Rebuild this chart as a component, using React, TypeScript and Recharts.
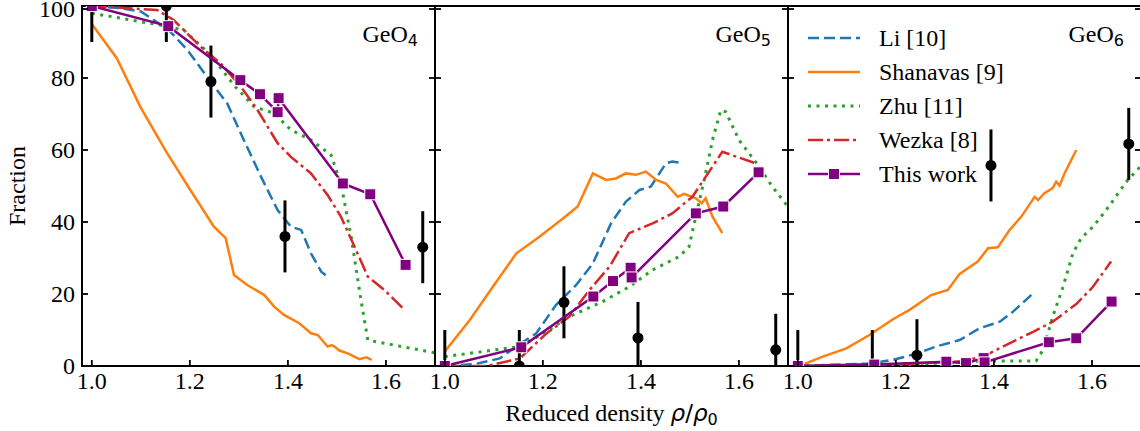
import React from 'react'
import { ComposedChart, Line, Scatter, ErrorBar, XAxis, YAxis, ReferenceArea, Legend } from 'recharts'

const SERIF = '"Liberation Serif", "Times New Roman", serif'
const MATH = '"DejaVu Sans", sans-serif'
const FS = 24

const BLUE = '#1f77b4'
const ORANGE = '#ff7f0e'
const GREEN = '#2ca02c'
const RED = '#d62728'
const PURPLE = '#800080'

const xTicks = [1.0, 1.2, 1.4, 1.6]
const yTicks = [0, 20, 40, 60, 80, 100]
const panelTitles = ['4', '5', '6']
const seriesNames = ['Li [10]', 'Shanavas [9]', 'Zhu [11]', 'Wezka [8]', 'This work']

// this work: same densities in all three panels
const thisWorkX = [1.0, 1.156, 1.303, 1.343, 1.379, 1.381, 1.512, 1.568, 1.64]
const thisWorkGeO4 = [100, 94.4, 79.4, 75.5, 70.5, 74.4, 50.7, 47.7, 28.1]
const thisWorkGeO5 = [0, 5.2, 19.3, 23.6, 27.3, 24.6, 42.4, 44.3, 53.8]
const thisWorkGeO6 = [0, 0.4, 1.2, 0.8, 2.2, 1.0, 6.6, 7.7, 17.9]

// experiment, +-10
const expX = [1.0, 1.152, 1.243, 1.394, 1.675]
const expGeO4 = [100, 100, 79, 36, 33]
const expGeO5 = [0, 0, 17.7, 7.8, 4.5]
const expGeO6 = [0, 0, 3, 55.7, 61.7]
const expErr = [10, 10, 10, 10, 10]

const liGeO4 = [[1.0, 100], [1.05, 99.5], [1.1, 98.5], [1.157, 93.3], [1.195, 87.8], [1.242, 79], [1.276, 73], [1.31, 62.8], [1.345, 52.6], [1.379, 43.3], [1.406, 38.7], [1.427, 37.8], [1.447, 31.3], [1.468, 26.2], [1.481, 24.8]]
const liGeO5 = [[1.0, 0], [1.06, 0.5], [1.112, 2.1], [1.155, 6.3], [1.186, 9], [1.227, 17], [1.268, 22.5], [1.302, 28.5], [1.339, 39.6], [1.369, 45.6], [1.397, 48.9], [1.42, 49.8], [1.451, 56.3], [1.464, 56.8], [1.477, 56.5]]
const liGeO6 = [[1.0, 0], [1.146, 0.7], [1.194, 1.7], [1.244, 3.5], [1.282, 5.4], [1.33, 7.2], [1.371, 10.5], [1.412, 12.3], [1.439, 15.1], [1.48, 20.2]]

const shanavasGeO4 = [[1.0, 95], [1.051, 85.5], [1.099, 72], [1.152, 59.5], [1.201, 48.9], [1.249, 38.7], [1.273, 35.5], [1.29, 25.3], [1.317, 22.5], [1.352, 19.7], [1.372, 16.5], [1.392, 14.2], [1.423, 11.9], [1.447, 9.1], [1.461, 8.6], [1.481, 5.4], [1.489, 5.8], [1.495, 5.4], [1.505, 4.3], [1.522, 3.5], [1.546, 1.9], [1.56, 2.4], [1.571, 1.7]]
const shanavasGeO5 = [[1.0, 4], [1.051, 12.8], [1.098, 22], [1.146, 31.3], [1.193, 35.9], [1.241, 41], [1.271, 44.3], [1.302, 53.5], [1.329, 51.7], [1.349, 52.1], [1.369, 53.5], [1.39, 53.1], [1.41, 54], [1.431, 51.7], [1.451, 50.7], [1.475, 47], [1.488, 47.8], [1.512, 46.6], [1.524, 45.2], [1.532, 46.6], [1.546, 41.5], [1.566, 36.9]]
const shanavasGeO6 = [[1.014, 0.6], [1.051, 2.6], [1.099, 4.9], [1.146, 8.6], [1.194, 13], [1.228, 15.6], [1.272, 19.7], [1.306, 21.1], [1.33, 25.6], [1.367, 29], [1.388, 32.7], [1.408, 33], [1.432, 37.8], [1.456, 41.5], [1.483, 47], [1.49, 46.1], [1.503, 48], [1.52, 49.4], [1.527, 51.2], [1.534, 50.1], [1.544, 53.5], [1.568, 60]]

const zhuGeO4 = [[1.0, 98], [1.14, 94.7], [1.188, 93.3], [1.242, 86.4], [1.29, 78], [1.331, 72], [1.372, 70.2], [1.406, 65.6], [1.447, 62.8], [1.488, 58.6], [1.508, 50.7], [1.529, 35.9], [1.549, 18.3], [1.563, 7.2], [1.597, 6.3], [1.652, 4.9], [1.71, 3.4]]
const zhuGeO5 = [[1.0, 2.6], [1.153, 5.4], [1.2, 9], [1.254, 13.7], [1.322, 17.9], [1.376, 22], [1.424, 26.7], [1.478, 30.4], [1.498, 33.1], [1.512, 41.5], [1.532, 53.5], [1.546, 62.8], [1.563, 71.1], [1.573, 70.6], [1.6, 62.8], [1.641, 55.4], [1.668, 49.8], [1.71, 42.5]]
const zhuGeO6 = [[1.0, 0], [1.2, 0.3], [1.398, 1.4], [1.486, 1.4], [1.5, 4.4], [1.52, 13.7], [1.541, 22], [1.561, 31.3], [1.578, 35.5], [1.602, 38.7], [1.629, 43.3], [1.673, 51.7], [1.71, 57]]

const wezkaGeO4 = [[1.0, 100], [1.133, 98.9], [1.167, 96.1], [1.222, 88.7], [1.263, 84], [1.304, 77.6], [1.338, 71.1], [1.379, 61.9], [1.406, 58.1], [1.447, 53.5], [1.481, 47.5], [1.508, 41.5], [1.536, 33.1], [1.563, 24.8], [1.597, 21.1], [1.638, 15.6]]
const wezkaGeO5 = [[1.0, 0], [1.085, 0], [1.153, 2.1], [1.207, 9], [1.254, 13.7], [1.295, 21.1], [1.336, 27.6], [1.376, 36.9], [1.424, 39.6], [1.464, 42.4], [1.505, 47], [1.546, 55.4], [1.566, 59.5], [1.634, 56.3]]
const wezkaGeO6 = [[1.0, 0], [1.248, 0.7], [1.344, 1.4], [1.391, 3.5], [1.439, 6.8], [1.48, 9.5], [1.52, 12.3], [1.568, 17.2], [1.602, 22], [1.639, 29]]

const W = 1141
const H = 431
const TOP = 6
const BOTTOM = 366
const PW = 353
const panelLefts = [82, 435, 788]

const styles = [
  { color: BLUE, dash: '11 5', width: 2.5 },
  { color: ORANGE, dash: undefined, width: 2.5 },
  { color: GREEN, dash: '3 5.5', width: 3 },
  { color: RED, dash: '15 4 3 4', width: 2.5 },
  { color: PURPLE, dash: undefined, width: 2.5 },
]

const pts = (pairs: number[][]) => pairs.map(([x, y]) => ({ x, y }))
const zipPts = (xs: number[], ys: number[]) => xs.map((x, i) => ({ x, y: ys[i] }))

const panels = [
  { li: liGeO4, sh: shanavasGeO4, zhu: zhuGeO4, wez: wezkaGeO4, tw: thisWorkGeO4, exp: expGeO4 },
  { li: liGeO5, sh: shanavasGeO5, zhu: zhuGeO5, wez: wezkaGeO5, tw: thisWorkGeO5, exp: expGeO5 },
  { li: liGeO6, sh: shanavasGeO6, zhu: zhuGeO6, wez: wezkaGeO6, tw: thisWorkGeO6, exp: expGeO6 },
]

const squareDot = (p: any) => (
  <rect key={`sq-${p.index}`} x={p.cx - 5.5} y={p.cy - 5.5} width={11} height={11} fill={PURPLE} stroke="#fff" strokeWidth={1} />
)

function LegendBox() {
  return (
    <div style={{ fontFamily: SERIF, fontSize: FS, color: '#000' }}>
      {seriesNames.map((name, i) => (
        <div key={name} style={{ display: 'flex', alignItems: 'center', height: 34 }}>
          <svg width={52} height={20} style={{ marginRight: 19 }}>
            <line x1={0} x2={52} y1={10} y2={10} stroke={styles[i].color} strokeWidth={styles[i].width} strokeDasharray={styles[i].dash} />
            {i === 4 && <rect x={20.5} y={4.5} width={11} height={11} fill={PURPLE} stroke="#fff" strokeWidth={1} />}
          </svg>
          <span style={{ lineHeight: '34px', whiteSpace: 'nowrap' }}>{name}</span>
        </div>
      ))}
    </div>
  )
}

function Panel({ idx }: { idx: number }) {
  const left = panelLefts[idx]
  const d = panels[idx]
  const labels = idx === 0
  const clipId = `plot-clip-${idx}`

  const yTick = (props: any) => (
    <g>
      <line x1={left} x2={left + 6} y1={props.y} y2={props.y} stroke="#000" strokeWidth={1.8} />
      <line x1={left + PW - 6} x2={left + PW} y1={props.y} y2={props.y} stroke="#000" strokeWidth={1.8} />
      {labels && (
        <text x={left - 7} y={props.y + 8} textAnchor="end" fontSize={FS} fontFamily={SERIF} fill="#000">
          {props.payload.value}
        </text>
      )}
    </g>
  )

  const xTick = (props: any) => (
    <g>
      <line x1={props.x} x2={props.x} y1={BOTTOM} y2={BOTTOM - 6} stroke="#000" strokeWidth={1.8} />
      <text x={props.x} y={BOTTOM + 23} textAnchor="middle" fontSize={FS} fontFamily={SERIF} fill="#000">
        {Number(props.payload.value).toFixed(1)}
      </text>
    </g>
  )

  // panel title, plus the clip rect for the experimental points
  const title = (props: any) => {
    const vb = props.viewBox
    return (
      <g>
        <defs>
          <clipPath id={clipId}>
            <rect x={vb.x} y={vb.y} width={vb.width} height={vb.height} />
          </clipPath>
        </defs>
        <text x={vb.x + vb.width - 17} y={42} textAnchor="end" fontSize={FS} fontFamily={SERIF} fill="#000">
          GeO
          <tspan fontFamily={MATH} fontSize={16} dy={4}>{panelTitles[idx]}</tspan>
        </text>
      </g>
    )
  }

  const xLabel = (props: any) => {
    const vb = props.viewBox
    return (
      <text x={vb.x + vb.width / 2} y={421} textAnchor="middle" fontSize={FS} fontFamily={SERIF} fill="#000">
        Reduced density{' '}
        <tspan fontFamily={MATH} fontStyle="italic" fontSize={23}>ρ</tspan>
        <tspan fontFamily={MATH} fontSize={23}>/</tspan>
        <tspan fontFamily={MATH} fontStyle="italic" fontSize={23}>ρ</tspan>
        <tspan fontFamily={MATH} fontSize={16} dy={4}>0</tspan>
      </text>
    )
  }

  const yLabel = () => (
    <text x={25} y={186} transform="rotate(-90, 25, 186)" textAnchor="middle" fontSize={FS} fontFamily={SERIF} fill="#000">
      Fraction
    </text>
  )

  const circleShape = (p: any) => <circle cx={p.cx} cy={p.cy} r={5.5} fill="#000" clipPath={`url(#${clipId})`} />

  const expData = expX.map((x, i) => ({ x, y: d.exp[i], err: expErr[i] }))

  return (
    <div style={{ position: 'absolute', left: 0, top: 0 }}>
      <ComposedChart width={W} height={H} margin={{ top: TOP, bottom: 0, left: 0, right: W - left - PW }}>
        <XAxis
          type="number"
          dataKey="x"
          domain={[0.98, 1.7]}
          ticks={xTicks}
          allowDataOverflow
          tickLine={false}
          axisLine={false}
          tick={xTick}
          height={H - BOTTOM}
          label={idx === 1 ? xLabel : undefined}
        />
        <YAxis
          type="number"
          dataKey="y"
          domain={[0, 100]}
          ticks={yTicks}
          allowDataOverflow
          tickLine={false}
          axisLine={false}
          tick={yTick}
          width={left}
          label={idx === 0 ? yLabel : undefined}
        />
        <ReferenceArea x1={0.98} x2={1.7} y1={0} y2={100} fill="none" stroke="#000" strokeWidth={2} ifOverflow="visible" label={title} />
        <Line data={pts(d.li)} dataKey="y" stroke={BLUE} strokeWidth={2.5} strokeDasharray="11 5" dot={false} activeDot={false} isAnimationActive={false} />
        <Line data={pts(d.sh)} dataKey="y" stroke={ORANGE} strokeWidth={2.5} dot={false} activeDot={false} isAnimationActive={false} />
        <Line data={pts(d.zhu)} dataKey="y" stroke={GREEN} strokeWidth={3} strokeDasharray="3 5.5" dot={false} activeDot={false} isAnimationActive={false} />
        <Line data={pts(d.wez)} dataKey="y" stroke={RED} strokeWidth={2.5} strokeDasharray="15 4 3 4" dot={false} activeDot={false} isAnimationActive={false} />
        <Scatter data={expData} fill="#000" shape={circleShape} isAnimationActive={false}>
          <ErrorBar dataKey="err" direction="y" width={0} stroke="#000" strokeWidth={3} clipPath={`url(#${clipId})`} isAnimationActive={false} />
        </Scatter>
        <Line data={zipPts(thisWorkX, d.tw)} dataKey="y" stroke={PURPLE} strokeWidth={2.5} dot={squareDot} activeDot={false} isAnimationActive={false} />
        {idx === 2 && (
          <Legend
            layout="vertical"
            align="center"
            verticalAlign="middle"
            wrapperStyle={{ left: 808, top: 21, width: 260 }}
            content={() => <LegendBox />}
          />
        )}
      </ComposedChart>
    </div>
  )
}

export default function App() {
  return (
    <div style={{ position: 'absolute', left: 0, top: 0, width: 1140, height: 431, overflow: 'hidden', background: '#fff' }}>
      <Panel idx={0} />
      <Panel idx={1} />
      <Panel idx={2} />
    </div>
  )
}
